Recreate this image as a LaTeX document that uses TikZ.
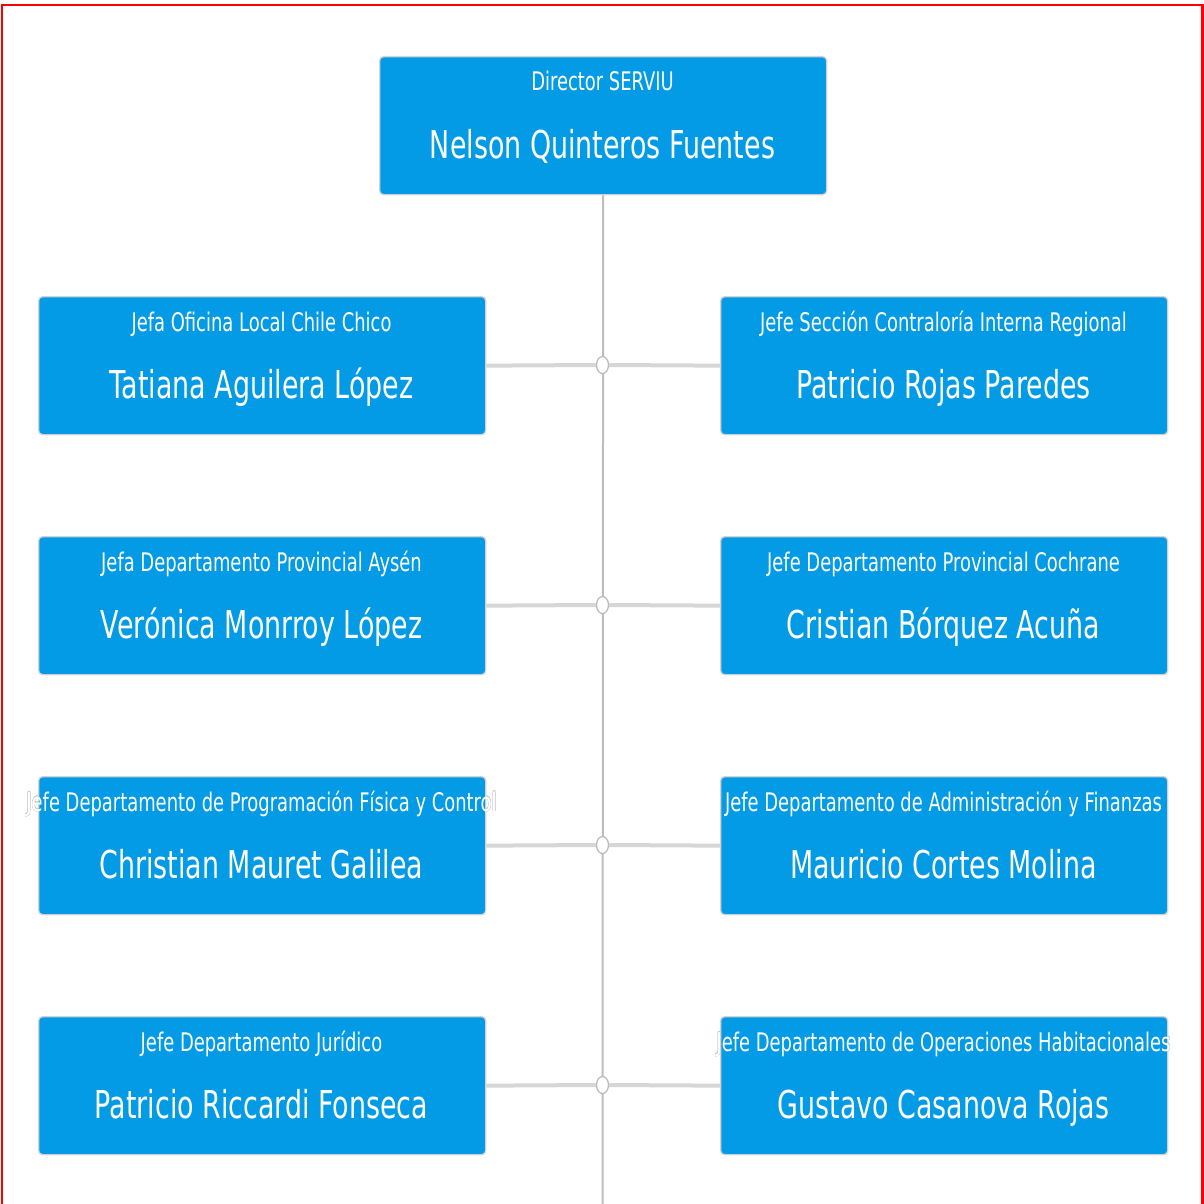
\documentclass[tikz,border=0pt]{standalone}
\usepackage{fontspec}
\setmainfont[FakeStretch=0.7]{DejaVu Sans}
\usepackage[copies]{contour}
\contourlength{0.4pt}
\usetikzlibrary{shapes.geometric}
\definecolor{boxblue}{HTML}{039BE5}
\definecolor{vgray}{HTML}{BDBDBD}
\definecolor{hgray}{HTML}{D6D6D6}
\definecolor{halo}{HTML}{C8C8C8}
\newcommand\orgbox[5]{%
  \node[orgbox] (#1) at (#2,#3) {};
  \node[roletext] (#1r) at (#2+223.5,#3+35) {#4};
  \node[nametext] (#1n) at (#2+223.5,#3+102) {#5};
}
\begin{document}
\begin{tikzpicture}[x=1pt,y=-1pt,
  orgbox/.style={draw=gray!35, line width=1.3pt, fill=boxblue, rounded corners=4pt,
    minimum width=447pt, minimum height=138pt, inner sep=0pt, anchor=north west},
  roletext/.style={anchor=base, text=white, inner sep=0pt, font=\fontsize{25.6}{28}\selectfont},
  nametext/.style={anchor=base, text=white, inner sep=0pt, font=\fontsize{38.4}{42}\selectfont},
  vline/.style={draw=vgray, line width=2pt},
  hline/.style={draw=hgray, line width=4pt},
  junction/.style={ellipse, draw=vgray, line width=1.3pt, fill=white, minimum width=12pt, minimum height=17pt, inner sep=0pt}
]
\useasboundingbox (0,0) rectangle (1204,1204);
\clip (0,0) rectangle (1204,1204);
\fill[white] (0,0) rectangle (1204,1204);
\draw[red, line width=2.2pt] (2,1220) -- (2,5) -- (1202.5,5) -- (1202.5,1220);

\coordinate (vend) at (602.5,1215);
\node[orgbox] (top) at (379,56) {};
\draw[vline] (top.south) -- (vend);
\node[roletext] (topr) at (602.5,91) {Director SERVIU};
\node[nametext] (topn) at (602.5,158) {Nelson Quinteros Fuentes};

% halos of the titles that run past their boxes (hidden inside the boxes)
\node[roletext] (l3h) at (261.5,811) {\contour{halo}{Jefe Departamento de Programación Física y Control}};
\node[roletext] (r4h) at (943.5,1051) {\contour{halo}{Jefe Departamento de Operaciones Habitacionales}};

\orgbox{l1}{38}{296}{Jefa Oficina Local Chile Chico}{Tatiana Aguilera López}
\orgbox{r1}{720}{296}{Jefe Sección Contraloría Interna Regional}{Patricio Rojas Paredes}
\orgbox{l2}{38}{536}{Jefa Departamento Provincial Aysén}{Verónica Monrroy López}
\orgbox{r2}{720}{536}{Jefe Departamento Provincial Cochrane}{Cristian Bórquez Acuña}
\orgbox{l3}{38}{776}{Jefe Departamento de Programación Física y Control}{Christian Mauret Galilea}
\orgbox{r3}{720}{776}{Jefe Departamento de Administración y Finanzas}{Mauricio Cortes Molina}
\orgbox{l4}{38}{1016}{Jefe Departamento Jurídico}{Patricio Riccardi Fonseca}
\orgbox{r4}{720}{1016}{Jefe Departamento de Operaciones Habitacionales}{Gustavo Casanova Rojas}

\foreach \i/\y in {1/365,2/605,3/845,4/1085}{
  \node[junction] (j\i) at (602.5,\y) {};
  \draw[hline] (l\i.east) -- (j\i.west);
  \draw[hline] (j\i.east) -- (r\i.west);
}
\end{tikzpicture}
\end{document}
